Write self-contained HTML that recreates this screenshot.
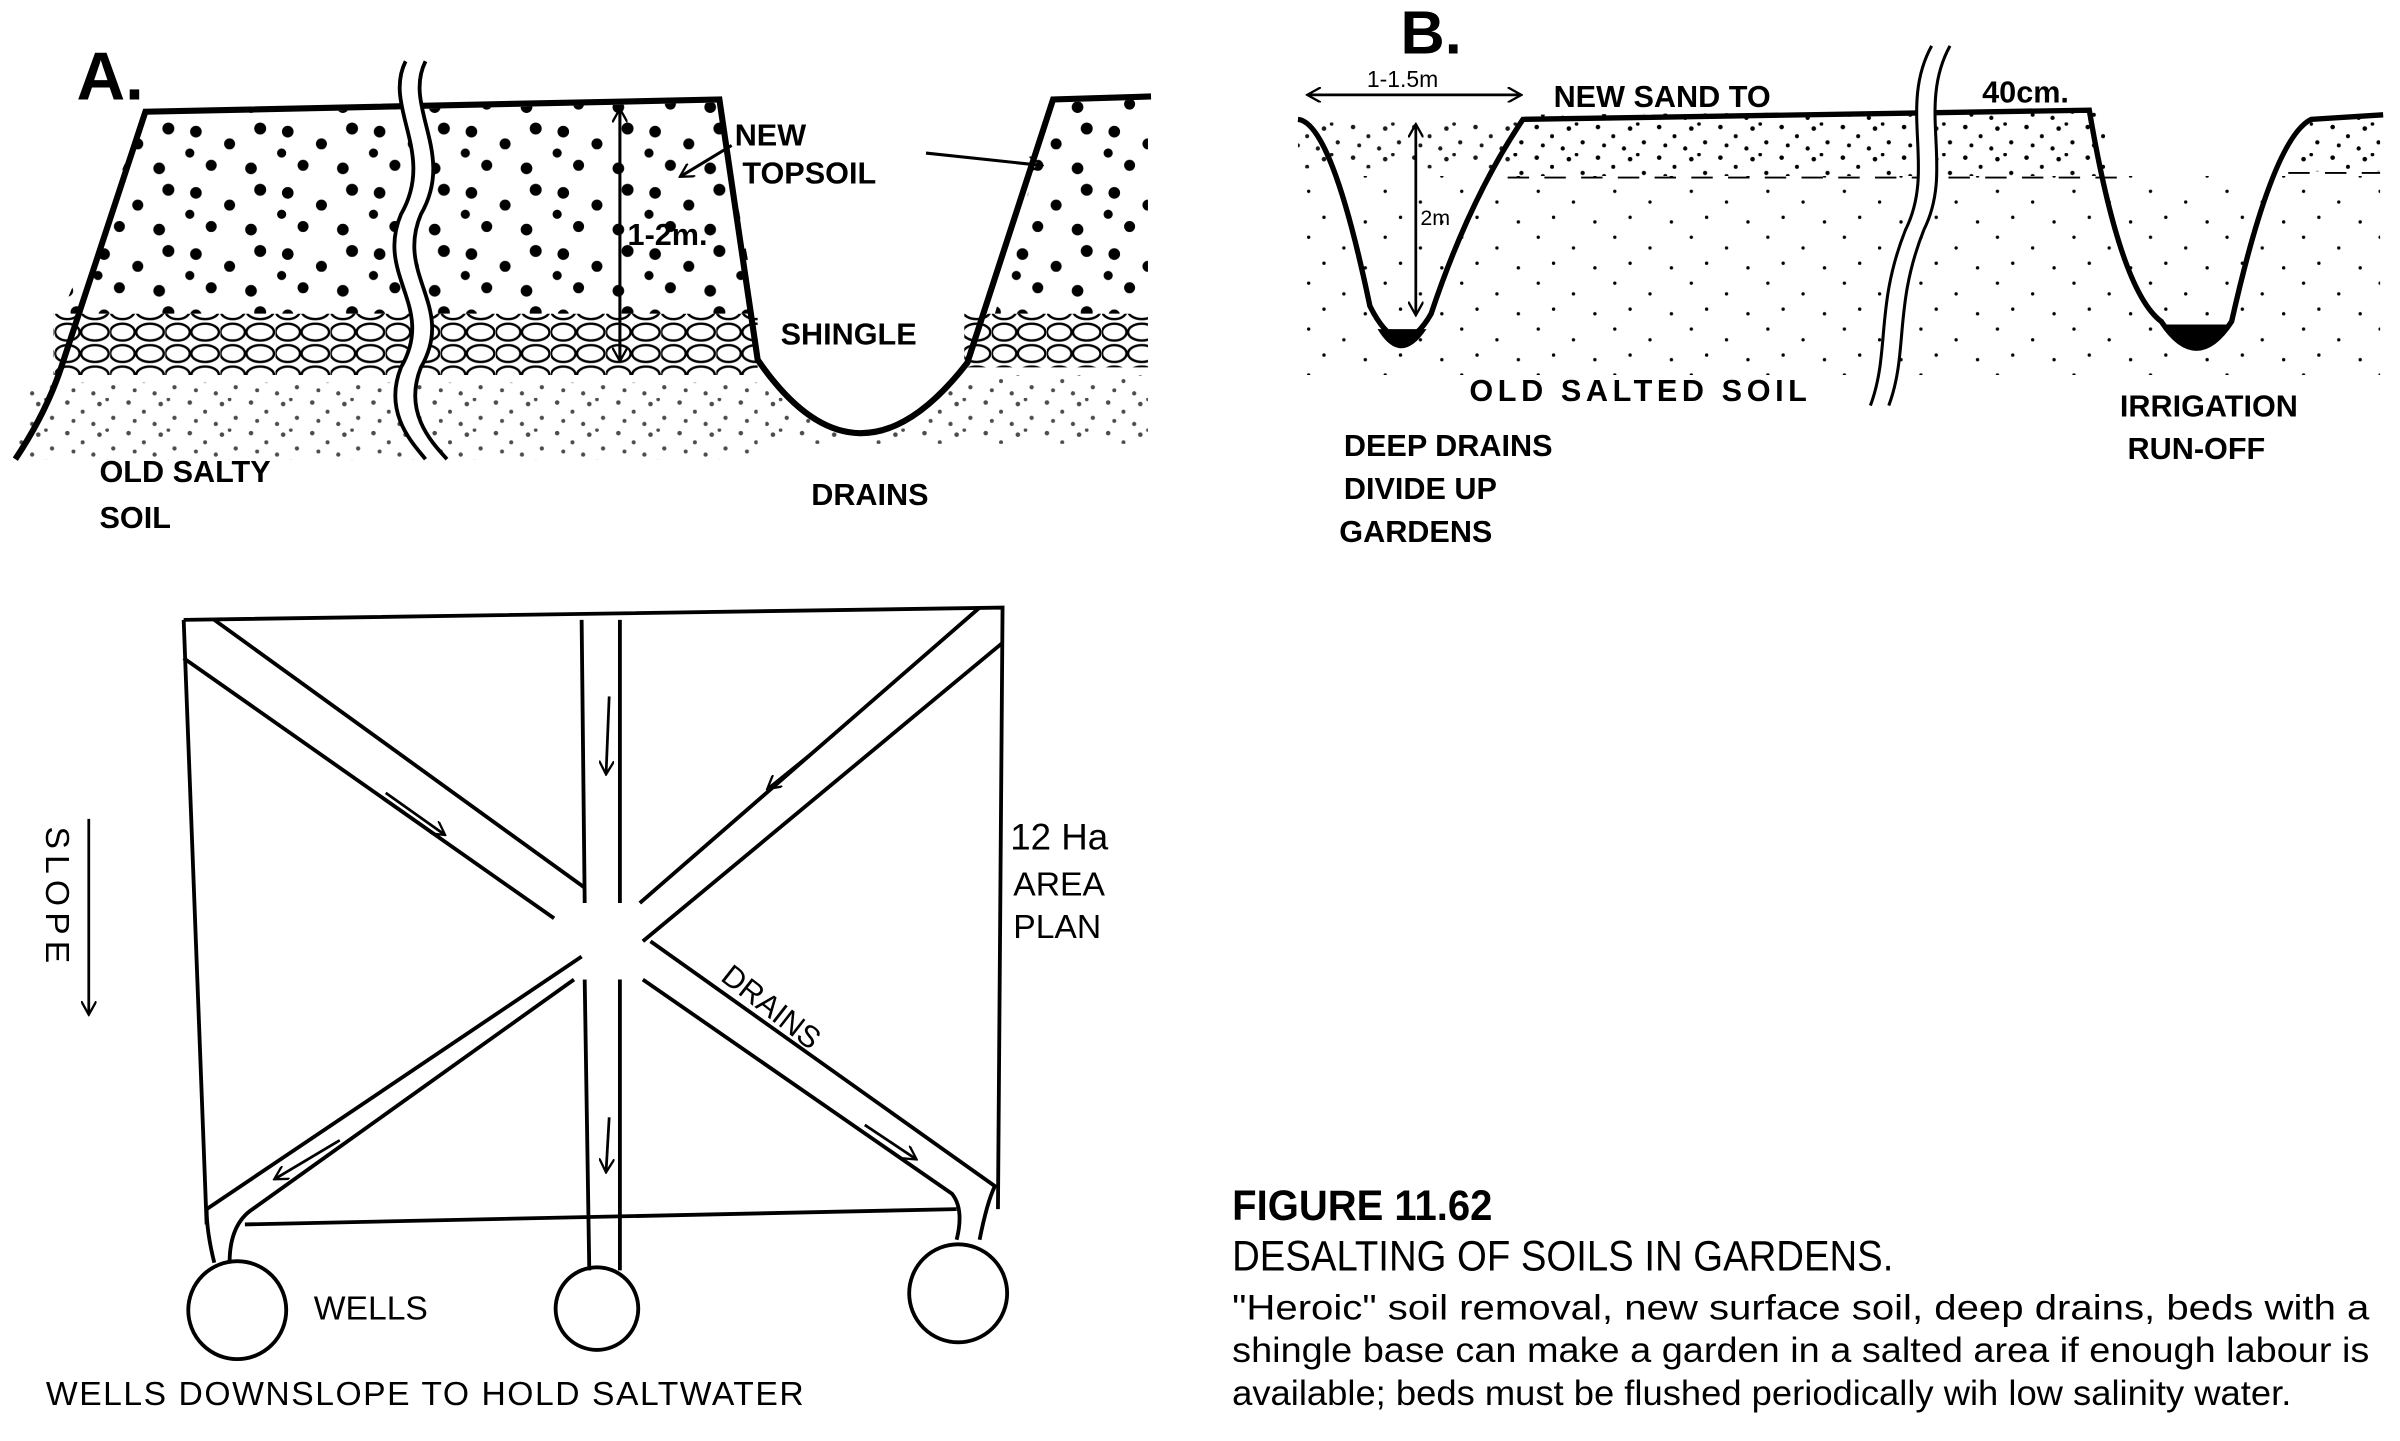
<!DOCTYPE html>
<html><head><meta charset="utf-8"><style>html,body{margin:0;padding:0;background:#fff}svg{display:block}</style></head><body>
<svg width="2400" height="1441" viewBox="0 0 1568 941.5" preserveAspectRatio="none" xmlns="http://www.w3.org/2000/svg">
<defs>
<pattern id="big" width="60" height="40" patternUnits="userSpaceOnUse">
<circle cx="8" cy="6" r="3.8"/><circle cx="30" cy="14" r="3.6"/><circle cx="50" cy="4" r="3.9"/><circle cx="18" cy="28" r="3.6"/><circle cx="44" cy="30" r="3.8"/><circle cx="4" cy="20" r="3"/>
</pattern>
<pattern id="small" width="40" height="20" patternUnits="userSpaceOnUse">
<circle cx="4" cy="3" r="1.5"/><circle cx="14" cy="9" r="1.3"/><circle cx="25" cy="4" r="1.5"/><circle cx="34" cy="13" r="1.4"/><circle cx="8" cy="15" r="1.3"/><circle cx="21" cy="17" r="1.4"/><circle cx="30" cy="1" r="1.2"/>
</pattern>
<pattern id="sparse" width="50" height="30" patternUnits="userSpaceOnUse">
<circle cx="5" cy="5" r="1.1"/><circle cx="28" cy="12" r="1.1"/><circle cx="42" cy="25" r="1.1"/><circle cx="15" cy="22" r="1.1"/>
</pattern>
<pattern id="shingle" width="36" height="14" patternUnits="userSpaceOnUse">
<ellipse cx="8" cy="7" rx="8" ry="5.5" fill="#fff" stroke="#000" stroke-width="1.6"/><ellipse cx="26" cy="7" rx="9" ry="5.5" fill="#fff" stroke="#000" stroke-width="1.6"/>
</pattern>
<marker id="ah" markerWidth="10" markerHeight="10" refX="8" refY="5" orient="auto-start-reverse" markerUnits="userSpaceOnUse"><path d="M0,0 L9,5 L0,10" fill="none" stroke="#000" stroke-width="1.5"/></marker>
</defs>
<g font-family="Liberation Sans, sans-serif" fill="#000">
<!-- Panel A -->
<text x="50" y="65" font-size="44" font-weight="bold">A.</text>
<path d="M95,75 L470,67 L495,205 L40,205 Z" fill="url(#big)"/>
<path d="M688,67 L750,65 L750,205 L650,205 Z" fill="url(#big)"/>
<path d="M35,205 L495,205 L495,245 L35,245 Z" fill="url(#shingle)"/>
<path d="M630,205 L750,205 L750,240 L630,240 Z" fill="url(#shingle)"/>
<path d="M20,250 L495,250 L495,300 L10,300 Z" fill="url(#small)" opacity=".7"/>
<path d="M500,245 Q560,320 630,245 L750,245 L750,290 L500,290 Z" fill="url(#small)" opacity=".7"/>
<path d="M10,300 Q30,270 40,240 L95,73 L470,65 L495,235 Q560,330 632,237 L688,65 L752,63" fill="none" stroke="#000" stroke-width="4"/>
<path d="M265,40 C250,70 285,100 262,140 C245,180 285,200 262,240 C250,270 270,290 278,300 L292,300 C283,290 263,270 275,240 C298,200 258,180 275,140 C298,100 263,70 278,40 Z" fill="#fff" stroke="none"/>
<path d="M265,40 C250,70 285,100 262,140 C245,180 285,200 262,240 C250,270 270,290 278,300" fill="none" stroke="#000" stroke-width="2.5"/>
<path d="M278,40 C263,70 298,100 275,140 C258,180 298,200 275,240 C263,270 283,290 292,300" fill="none" stroke="#000" stroke-width="2.5"/>
<path d="M405,72 L405,235" stroke="#000" stroke-width="2" marker-start="url(#ah)" marker-end="url(#ah)"/>
<g font-weight="bold" font-size="20">
<text x="410" y="160">1-2m.</text>
<text x="480" y="95">NEW</text>
<text x="485" y="120">TOPSOIL</text>
<text x="510" y="225">SHINGLE</text>
<text x="65" y="315">OLD SALTY</text>
<text x="65" y="345">SOIL</text>
<text x="530" y="330">DRAINS</text>
</g>
<path d="M478,95 L445,115" stroke="#000" stroke-width="2" marker-end="url(#ah)"/>
<path d="M605,100 L680,108" stroke="#000" stroke-width="2" marker-end="url(#ah)"/>
<!-- Panel B -->
<text x="915" y="35" font-size="40" font-weight="bold">B.</text>
<path d="M848,80 L995,80 L990,110 L848,110 Z" fill="url(#small)" opacity=".9"/>
<path d="M995,75 L1370,72 L1385,115 L985,115 Z" fill="url(#small)"/>
<path d="M1510,78 L1555,75 L1555,112 L1500,112 Z" fill="url(#small)"/>
<path d="M848,115 L1555,115 L1555,245 L848,245 Z" fill="url(#sparse)"/>
<path d="M985,116 L1385,116 M1495,113 L1555,113" stroke="#000" stroke-width="1.2" stroke-dasharray="14,10"/>
<path d="M848,78 Q870,80 895,200 Q915,240 935,205 Q960,130 995,78 L1365,72 Q1385,190 1412,210 Q1435,245 1458,210 Q1485,90 1510,78 L1557,75" fill="none" stroke="#000" stroke-width="3.5"/>
<path d="M900,215 Q915,240 932,215 Z" fill="#000"/>
<path d="M1415,212 Q1436,245 1456,212 Z" fill="#000"/>
<path d="M1262,30 C1240,70 1265,110 1245,150 C1225,200 1235,230 1222,265 L1234,265 C1247,230 1237,200 1257,150 C1277,110 1252,70 1274,30 Z" fill="#fff" stroke="none"/>
<path d="M1262,30 C1240,70 1265,110 1245,150 C1225,200 1235,230 1222,265" fill="none" stroke="#000" stroke-width="2"/>
<path d="M1274,30 C1252,70 1277,110 1257,150 C1237,200 1247,230 1234,265" fill="none" stroke="#000" stroke-width="2"/>
<path d="M855,62 L993,62" stroke="#000" stroke-width="1.8" marker-start="url(#ah)" marker-end="url(#ah)"/>
<text x="893" y="57" font-size="15">1-1.5m</text>
<path d="M925,82 L925,205" stroke="#000" stroke-width="1.8" marker-start="url(#ah)" marker-end="url(#ah)"/>
<text x="928" y="147" font-size="14">2m</text>
<g font-weight="bold" font-size="20">
<text x="1015" y="70">NEW SAND TO</text>
<text x="1295" y="67">40cm.</text>
<text x="960" y="262" letter-spacing="3">OLD SALTED SOIL</text>
<text x="878" y="298">DEEP DRAINS</text>
<text x="878" y="326">DIVIDE UP</text>
<text x="875" y="354">GARDENS</text>
<text x="1385" y="272">IRRIGATION</text>
<text x="1390" y="300">RUN-OFF</text>
</g>
<!-- Plan -->
<g fill="none" stroke="#000" stroke-width="2.5">
<path d="M120,405 L655,397 L652,790"/>
<path d="M120,405 L135,800"/>
<path d="M160,800 L625,790"/>
<path d="M380,405 L382,590 M382,640 L385,830"/>
<path d="M405,405 L405,590 M405,640 L405,830"/>
<path d="M120,430 L362,600 M420,640 L622,780 Q630,790 625,810"/>
<path d="M140,405 L382,580 M425,615 L650,775 Q645,785 640,810"/>
<path d="M640,397 L418,590 M375,640 L165,790 Q150,800 150,825"/>
<path d="M655,420 L420,615 M380,625 L135,790 Q135,805 140,825"/>
<circle cx="155" cy="856" r="32"/>
<circle cx="390" cy="855" r="27"/>
<circle cx="626" cy="845" r="32"/>
<path d="M398,455 L396,505" marker-end="url(#ah)" stroke-width="1.8"/>
<path d="M398,730 L396,765" marker-end="url(#ah)" stroke-width="1.8"/>
<path d="M252,518 L290,545" marker-end="url(#ah)" stroke-width="1.8"/>
<path d="M545,480 L502,515" marker-end="url(#ah)" stroke-width="1.8"/>
<path d="M222,745 L180,770" marker-end="url(#ah)" stroke-width="1.8"/>
<path d="M565,735 L598,757" marker-end="url(#ah)" stroke-width="1.8"/>
<path d="M58,535 L58,662" marker-end="url(#ah)" stroke-width="1.8"/>
</g>
<text x="470" y="640" font-size="20" transform="rotate(38 470 640)">DRAINS</text>
<text x="30" y="540" font-size="22" transform="rotate(90 30 540)" letter-spacing="4">SLOPE</text>
<text x="660" y="555" font-size="24">12 Ha</text>
<text x="662" y="585" font-size="22">AREA</text>
<text x="662" y="613" font-size="22">PLAN</text>
<text x="205" y="862" font-size="22">WELLS</text>
<text x="30" y="918" font-size="22" letter-spacing="1">WELLS DOWNSLOPE TO HOLD SALTWATER</text>
<!-- caption -->
<text x="805" y="797" font-size="28" font-weight="bold" textLength="170" lengthAdjust="spacingAndGlyphs">FIGURE 11.62</text>
<text x="805" y="830" font-size="28" textLength="432" lengthAdjust="spacingAndGlyphs">DESALTING OF SOILS IN GARDENS.</text>
<text x="805" y="862" font-size="23" textLength="743" lengthAdjust="spacingAndGlyphs">"Heroic" soil removal, new surface soil, deep drains, beds with a</text>
<text x="805" y="890" font-size="23" textLength="743" lengthAdjust="spacingAndGlyphs">shingle base can make a garden in a  salted area if enough labour is</text>
<text x="805" y="918" font-size="23" textLength="692" lengthAdjust="spacingAndGlyphs">available; beds must be flushed periodically wih low salinity water.</text>
</g>
</svg>
</body></html>
